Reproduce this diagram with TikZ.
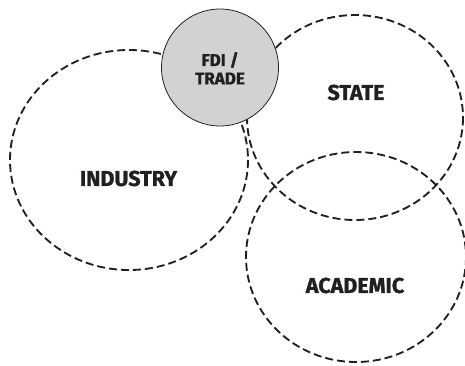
\documentclass[tikz,border=0pt]{standalone}
\usepackage{fontspec}
\setmainfont{Fira Sans}[BoldFeatures={FakeBold=1.2}]
\definecolor{ink}{RGB}{35,31,32}
\definecolor{fdigray}{RGB}{209,210,212}
\tikzset{
  sector/.style={draw=ink, line width=1.85pt, dashed, dash pattern=on 8pt off 4pt},
  hub/.style={draw=ink, line width=0.8pt, fill=fdigray},
  biglabel/.style={text=ink, font=\bfseries\fontsize{21.5}{22}\selectfont, inner sep=0pt, anchor=center},
  smalllabel/.style={text=ink, font=\bfseries\fontsize{17}{18}\selectfont, inner sep=0pt, anchor=center},
}
\begin{document}
\begin{tikzpicture}[x=1pt, y=-1pt]
  \useasboundingbox (0,0) rectangle (465,365);
  % the three sectors
  \draw[sector] (129,160) ellipse [x radius=119, y radius=110];
  \draw[sector] (355,117.5) ellipse [x radius=108, y radius=102.5];
  \draw[sector] (356,257) ellipse [x radius=110, y radius=105];
  % FDI / trade hub lies over the sectors
  \draw[hub] (220,67.5) circle [radius=58.5];
  % labels
  \node[biglabel] (industry) at (128.5,178.5) {INDUSTRY};
  \node[biglabel] (state) at (356,92.5) {STATE};
  \node[biglabel] (academic) at (355,285.5) {ACADEMIC};
  \node[smalllabel] (fdi) at (220,60) {FDI /};
  \node[smalllabel] (trade) at (220,78.5) {TRADE};
\end{tikzpicture}
\end{document}
